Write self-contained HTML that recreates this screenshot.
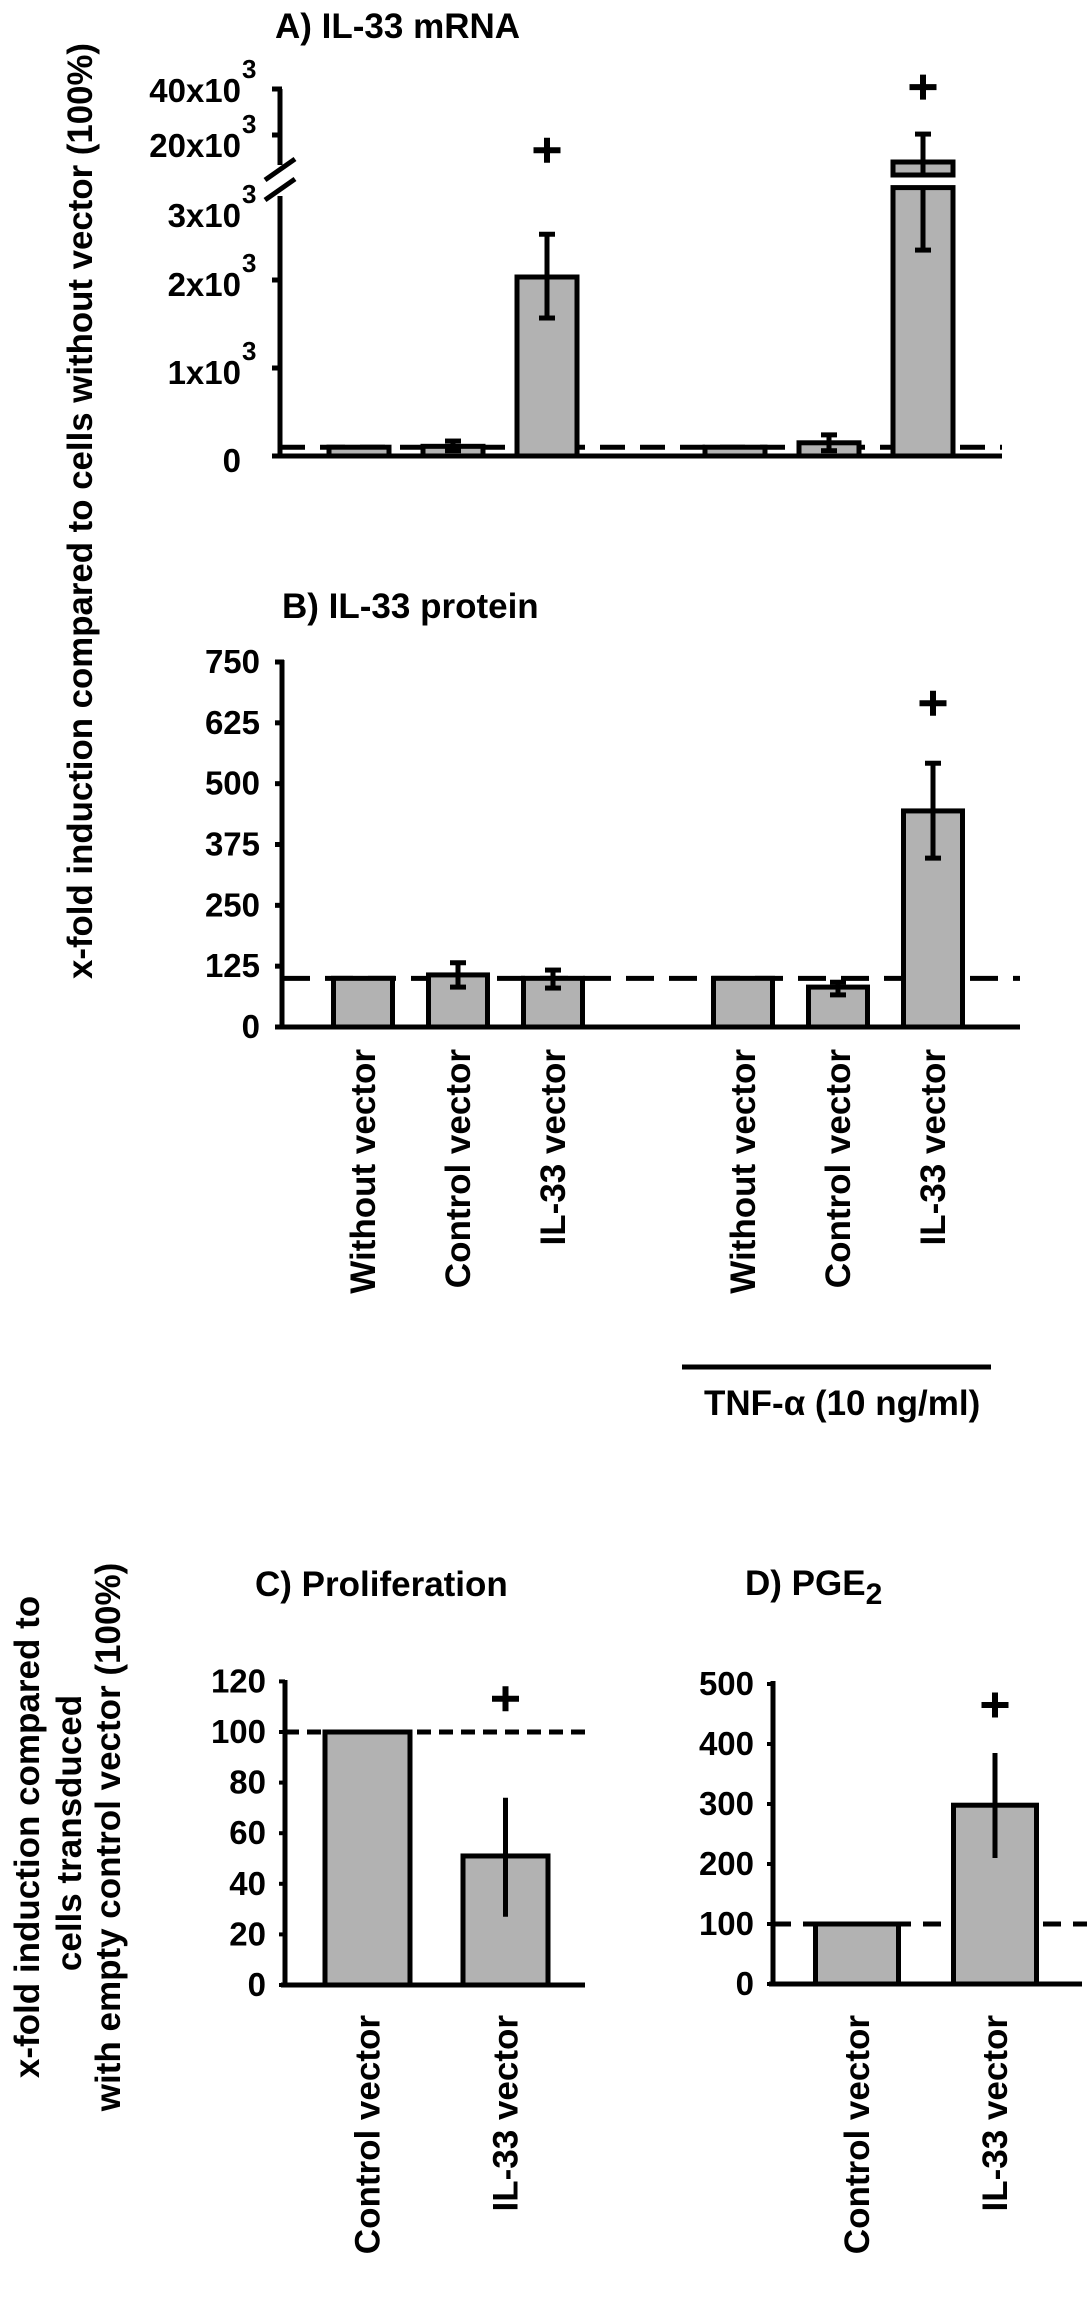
<!DOCTYPE html>
<html><head><meta charset="utf-8">
<style>
html,body{margin:0;padding:0;background:#fff;}
svg{display:block;}
text{font-family:"Liberation Sans",Arial,sans-serif;font-weight:bold;fill:#000;}
</style></head>
<body>
<svg id="fig" width="1087" height="2300" viewBox="0 0 1087 2300" xmlns="http://www.w3.org/2000/svg">
  <text transform="translate(92,511) rotate(-90)" text-anchor="middle" font-size="35" textLength="936" lengthAdjust="spacingAndGlyphs">x-fold induction compared to cells without vector (100%)</text>
  <text x="275" y="38" font-size="35">A) IL-33 mRNA</text>
  <text x="282" y="618" font-size="35">B) IL-33 protein</text>
  <text x="255" y="1596" font-size="35">C) Proliferation</text>
  <text x="745" y="1595" font-size="35">D) PGE<tspan font-size="30" dy="9">2</tspan></text>
  <line x1="682" y1="1367" x2="991" y2="1367" stroke="#000" stroke-width="5"/>
  <text x="704" y="1415" font-size="35">TNF-α (10 ng/ml)</text>
  <g font-size="35" text-anchor="middle">
    <text transform="translate(39,1837) rotate(-90)">x-fold induction compared to</text>
    <text transform="translate(81,1833) rotate(-90)">cells transduced</text>
    <text transform="translate(120,1837) rotate(-90)">with empty control vector (100%)</text>
  </g>
  <g id="gA"></g>
  <g id="gB"></g>
  <g id="gC"></g>
  <g id="gD"></g>
</svg>
<script>
// ---- data ----
const abCategories = ["Without vector","Control vector","IL-33 vector","Without vector","Control vector","IL-33 vector"];
const abSlots = [0,1,2,4,5,6];
const mrnaValues = [100, 110, 2034, 100, 150, 8260];
const mrnaErrLow = [null, 60, 1568, null, 60, 2340];
const mrnaErrHigh = [null, 170, 2520, null, 240, 20400];
const mrnaSig = [false,false,true,false,false,true];
const mrnaTicks = [0,1000,2000,3000,20000,40000];
const mrnaTickMant = ["0","1x10","2x10","3x10","20x10","40x10"];
const proteinValues = [100, 107, 100, 100, 82, 444];
const proteinErrLow = [null, 82, 80, null, 66, 347];
const proteinErrHigh = [null, 132, 117, null, 92, 542];
const proteinSig = [false,false,false,false,false,true];
const proteinTicks = [0,125,250,375,500,625,750];
const cdCategories = ["Control vector","IL-33 vector"];
const prolifValues = [100, 51];
const prolifErrLow = [null, 27];
const prolifErrHigh = [null, 74];
const prolifSig = [false,true];
const prolifTicks = [0,20,40,60,80,100,120];
const pgeValues = [100, 298];
const pgeErrLow = [null, 210];
const pgeErrHigh = [null, 385];
const pgeSig = [false,true];
const pgeTicks = [0,100,200,300,400,500];
const baselineRef = 100;

const NS = "http://www.w3.org/2000/svg";
function mk(parent, tag, attrs, txt){
  const e = document.createElementNS(NS, tag);
  for (const k in attrs) e.setAttribute(k, attrs[k]);
  if (txt !== undefined) e.textContent = txt;
  parent.appendChild(e);
  return e;
}
function plus(g, cx, cy){
  const p = mk(g, "path", {d:`M${cx-13.5},${cy-3}h27v6h-27z M${cx-3},${cy-12.5}h6v25h-6z`, fill:"#000"});
  
  
}
function errBar(g, x, y1, y2, caps){
  const l = mk(g, "line", {x1:x, x2:x, y1:y1, y2:y2, stroke:"#000", "stroke-width":5});
  
  
  if (caps) {
    for (const yy of [y1, y2]) {
      const c = mk(g, "line", {x1:x-8, x2:x+8, y1:yy, y2:yy, stroke:"#000", "stroke-width":5});
      
      
    }
  }
}
function xLabel(g, cx, yTop, txt){
  const t = mk(g, "text", {transform:`translate(${cx+12},${yTop}) rotate(-90)`, "text-anchor":"end", "font-size":35}, txt);
  
  
}

// ---- Panel A (broken axis) ----
(function(){
  const g = document.getElementById("gA");
  const y0 = 456, k = 0.088, lowMax = 3050;
  const yU = v => 135 - (v - 20000) * 0.0023;
  const yA = v => v <= 3100 ? y0 - v * k : yU(v);
  const xA = i => 359 + abSlots[i] * 94;
  const w = 60;
  const dl = mk(g, "line", {x1:280, x2:1002, y1:yA(baselineRef), y2:yA(baselineRef), stroke:"#000", "stroke-width":5, "stroke-dasharray":"25 15"});
  
  
  mrnaValues.forEach((v, i) => {
    const cx = xA(i);
    if (v > 3100) {
      const r1 = mk(g, "rect", {x:cx-w/2, y:yA(lowMax), width:w, height:y0-yA(lowMax), fill:"#b2b2b2", stroke:"#000", "stroke-width":5});
      
      
      const r2 = mk(g, "rect", {x:cx-w/2, y:yU(v), width:w, height:175-yU(v), fill:"#b2b2b2", stroke:"#000", "stroke-width":5});
      
      
      errBar(g, cx, yU(mrnaErrHigh[i]), 175, false);
      errBar(g, cx, yA(lowMax), yA(mrnaErrLow[i]), false);
      for (const yy of [yU(mrnaErrHigh[i]), yA(mrnaErrLow[i])]) {
        const c = mk(g, "line", {x1:cx-8, x2:cx+8, y1:yy, y2:yy, stroke:"#000", "stroke-width":5});
        
        
      }
    } else {
      const r = mk(g, "rect", {x:cx-w/2, y:yA(v), width:w, height:y0-yA(v), fill:"#b2b2b2", stroke:"#000", "stroke-width":5});
      
      
      if (mrnaErrLow[i] !== null) errBar(g, cx, yA(mrnaErrHigh[i]), yA(mrnaErrLow[i]), true);
    }
    if (mrnaSig[i]) {
      const top = v > 3100 ? yU(mrnaErrHigh[i]) : yA(mrnaErrHigh[i]);
      plus(g, cx, top - (v > 3100 ? 47 : 84));
    }
  });
  const ax = mk(g, "path", {d:"M280,89V165 M280,196V458 M273,456H1002", stroke:"#000", "stroke-width":5, fill:"none"});
  
  
  const br = mk(g, "path", {d:"M265,180L295,159 M265,200L295,179", stroke:"#000", "stroke-width":5, fill:"none"});
  
  
  const labOff = [16,16,16,35,22,13];
  mrnaTicks.forEach((t, i) => {
    const y = t >= 20000 ? yU(t) : yA(t);
    if (t !== 3000) {
      const tk = mk(g, "line", {x1:272, x2:282, y1:y, y2:y, stroke:"#000", "stroke-width":5});
      
      
    }
    const tx = mk(g, "text", {x:241, y:y+labOff[i], "text-anchor":"end", "font-size":33}, mrnaTickMant[i]);
    
    
    if (t !== 0) {
      const sp = mk(g, "text", {x:242, y:y+labOff[i]-24, "font-size":26}, "3");
      
      
    }
  });
})();

// ---- Panel B ----
(function(){
  const g = document.getElementById("gB");
  const y0 = 1027, k = 365/750;
  const yB = v => y0 - v * k;
  const xB = i => 363 + abSlots[i] * 95;
  const w = 59;
  const dl = mk(g, "line", {x1:282, x2:1020, y1:yB(baselineRef), y2:yB(baselineRef), stroke:"#000", "stroke-width":5, "stroke-dasharray":"28 15"});
  
  
  proteinValues.forEach((v, i) => {
    const cx = xB(i);
    const r = mk(g, "rect", {x:cx-w/2, y:yB(v), width:w, height:y0-yB(v), fill:"#b2b2b2", stroke:"#000", "stroke-width":5});
    
    
    if (proteinErrLow[i] !== null) errBar(g, cx, yB(proteinErrHigh[i]), yB(proteinErrLow[i]), true);
    if (proteinSig[i]) plus(g, cx, yB(proteinErrHigh[i]) - 60);
    xLabel(g, cx, 1049, abCategories[i]);
  });
  const ax = mk(g, "path", {d:"M282,660V1029 M278,1027H1020", stroke:"#000", "stroke-width":5, fill:"none"});
  
  
  proteinTicks.forEach(t => {
    const y = yB(t);
    const tk = mk(g, "line", {x1:275, x2:284, y1:y, y2:y, stroke:"#000", "stroke-width":5});
    
    
    const tx = mk(g, "text", {x:260, y:y+11, "text-anchor":"end", "font-size":33}, String(t));
    
    
  });
})();

// ---- Panels C & D ----
function smallPanel(id, vals, lo, hi, sig, ticks, axX, y0, yTop, k, xEnd, centers, w, dash, dashEnd, plusGap){
  const g = document.getElementById(id);
  const yS = v => y0 - v * k;
  const dl = mk(g, "line", {x1:axX, x2:dashEnd, y1:yS(baselineRef), y2:yS(baselineRef), stroke:"#000", "stroke-width":5, "stroke-dasharray":dash});
  
  
  vals.forEach((v, i) => {
    const cx = centers[0] + i * (centers[1] - centers[0]);
    const r = mk(g, "rect", {x:cx-w/2, y:yS(v), width:w, height:y0-yS(v), fill:"#b2b2b2", stroke:"#000", "stroke-width":5});
    
    
    if (lo[i] !== null) errBar(g, cx, yS(hi[i]), yS(lo[i]), false);
    if (sig[i]) plus(g, cx, yS(hi[i]) - plusGap);
    xLabel(g, cx, 2015, cdCategories[i]);
  });
  const ax = mk(g, "path", {d:`M${axX},${yTop}V${y0+2} M${axX-4},${y0}H${xEnd}`, stroke:"#000", "stroke-width":5, fill:"none"});
  
  
  ticks.forEach(t => {
    const y = yS(t);
    const tk = mk(g, "line", {x1:axX-6, x2:axX, y1:y, y2:y, stroke:"#000", "stroke-width":4});
    
    
    const tx = mk(g, "text", {x:axX-19, y:y+11, "text-anchor":"end", "font-size":33}, String(t));
    
    
  });
}
smallPanel("gC", prolifValues, prolifErrLow, prolifErrHigh, prolifSig, prolifTicks, 285, 1985, 1680, 2.53, 585, [367.5, 505.5], 85, "14 8", 585, 99);
smallPanel("gD", pgeValues, pgeErrLow, pgeErrHigh, pgeSig, pgeTicks, 773, 1984, 1681, 0.6, 1082, [857, 995], 83, "18 12", 1087, 48);
</script>
</body></html>
